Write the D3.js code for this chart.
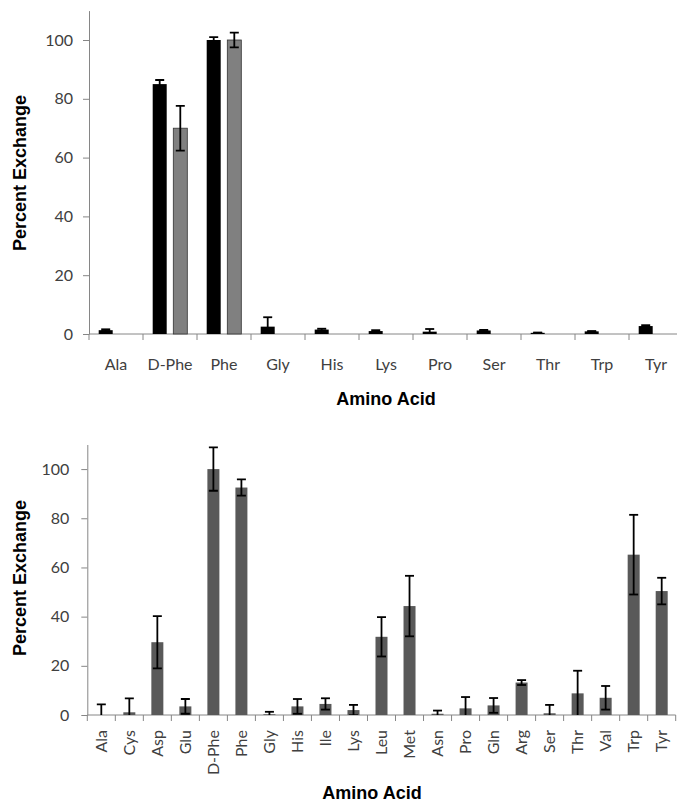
<!DOCTYPE html>
<html>
<head>
<meta charset="utf-8">
<script src="https://cdn.jsdelivr.net/npm/d3@7"></script>
<style>
  body { margin: 0; background: #fff; }
  .tick text { font-family: Lato, "Open Sans", sans-serif; font-size: 16px; fill: #404040; }
  .title { font-family: "Liberation Sans", Arial, sans-serif; font-size: 18px; font-weight: bold; fill: #000; }
</style>
</head>
<body>
<div id="chart"></div>
<script>
// top panel: two series per amino acid
const topAcids = ["Ala", "D-Phe", "Phe", "Gly", "His", "Lys", "Pro", "Ser", "Thr", "Trp", "Tyr"];
const topBlack = [1.3, 85, 100, 2.5, 1.5, 1.0, 0.8, 1.2, 0.4, 0.9, 2.7];
const topBlackErr = [0.3, 1.4, 1.0, 3.2, 0.3, 0.3, 0.9, 0.2, 0.1, 0.1, 0.3];
const topGray = [0, 70, 100, 0, 0, 0, 0, 0, 0, 0, 0];
const topGrayErr = [0, 7.6, 2.5, 0, 0, 0, 0, 0, 0, 0, 0];

// bottom panel: one series
const bottomAcids = ["Ala", "Cys", "Asp", "Glu", "D-Phe", "Phe", "Gly", "His", "Ile", "Lys", "Leu",
    "Met", "Asn", "Pro", "Gln", "Arg", "Ser", "Thr", "Val", "Trp", "Tyr"];
const bottomValues = [0, 1.1, 29.6, 3.5, 100, 92.5, 0.3, 3.5, 4.5, 2.0, 31.8,
    44.3, 0.5, 2.7, 3.9, 13.2, 0.7, 8.8, 7.0, 65.2, 50.4];
const bottomErr = [4.3, 5.7, 10.6, 3.0, 8.8, 3.3, 1.0, 3.0, 2.3, 2.1, 8.0,
    12.3, 1.3, 4.6, 3.0, 1.0, 3.4, 9.2, 4.8, 16.2, 5.4];

const yTicks = [0, 20, 40, 60, 80, 100];

const width = 677, height = 802;
const axisColor = "#868686";

const svg = d3.select("#chart")
    .append("svg")
    .attr("width", width)
    .attr("height", height);

// one panel = axes, category ticks, bars and error bars
function drawPanel(p) {
    const g = svg.append("g");

    const x = d3.scaleBand()
        .domain(p.cats)
        .range([p.left, p.right])
        .padding(0);

    const y = d3.scaleLinear()
        .domain([0, 110])
        .range([p.bottom, p.top]);

    // clip for error bars (Excel clips to plot area)
    g.append("clipPath")
        .attr("id", p.id + "-clip")
        .append("rect")
        .attr("x", p.left)
        .attr("y", y(110))
        .attr("width", width - p.left)
        .attr("height", y(0) - y(110));

    // y axis
    const yAxis = g.append("g")
        .attr("transform", `translate(${p.left},0)`)
        .call(d3.axisLeft(y).tickValues(yTicks).tickSize(6).tickSizeOuter(0).tickPadding(p.yPad));
    yAxis.select(".domain").attr("stroke", axisColor);
    yAxis.selectAll(".tick line").attr("stroke", axisColor);

    // x axis line and boundary ticks
    g.append("line")
        .attr("x1", p.left).attr("x2", p.right)
        .attr("y1", y(0)).attr("y2", y(0))
        .attr("stroke", axisColor);

    const bounds = p.cats.map(c => x(c)).concat([x(p.cats[p.cats.length - 1]) + x.bandwidth()]);
    g.selectAll(".btick")
        .data(bounds)
        .enter()
        .append("line")
        .attr("x1", d => d).attr("x2", d => d)
        .attr("y1", y(0)).attr("y2", y(0) + 6)
        .attr("stroke", axisColor);

    // category labels
    const labels = g.selectAll(".cat")
        .data(p.cats)
        .enter()
        .append("g")
        .attr("class", "tick")
        .attr("transform", d => `translate(${x(d) + x.bandwidth() / 2},${p.labelY})`)
        .append("text");
    if (p.rotate) {
        labels.attr("transform", "rotate(-90)")
            .attr("text-anchor", "end")
            .attr("dy", "0.35em")
            .text(d => d);
    } else {
        labels.attr("text-anchor", "middle").text(d => d);
    }

    // bars
    p.series.forEach(s => {
        const rows = s.values.map((v, i) => ({ cat: p.cats[i], v: v, e: s.err[i] }));
        const cx = d => x(d.cat) + x.bandwidth() / 2 + s.offset;

        g.selectAll(null)
            .data(rows.filter(d => d.v > 0))
            .enter()
            .append("rect")
            .attr("x", d => cx(d) - s.width / 2)
            .attr("y", d => y(d.v))
            .attr("width", s.width)
            .attr("height", d => y(0) - y(d.v))
            .attr("fill", s.color)
            .attr("stroke", s.stroke || "none")
            .attr("stroke-width", 0.8);

        // error bars
        const eg = g.append("g").attr("clip-path", `url(#${p.id}-clip)`);
        rows.filter(d => d.e > 0).forEach(d => {
            const c = cx(d);
            eg.append("line")
                .attr("x1", c).attr("x2", c)
                .attr("y1", y(d.v + d.e)).attr("y2", y(d.v - d.e))
                .attr("stroke", "#000").attr("stroke-width", 1.8);
            [d.v + d.e, d.v - d.e].forEach(t => {
                eg.append("line")
                    .attr("x1", c - 4.5).attr("x2", c + 4.5)
                    .attr("y1", y(t)).attr("y2", y(t))
                    .attr("stroke", "#000").attr("stroke-width", 1.8);
            });
        });
    });

    // axis titles
    g.append("text")
        .attr("class", "title")
        .attr("transform", "rotate(-90)")
        .attr("x", -p.yTitleCenter)
        .attr("y", 26)
        .attr("text-anchor", "middle")
        .text("Percent Exchange");

    g.append("text")
        .attr("class", "title")
        .attr("x", p.xTitleX)
        .attr("y", p.xTitleY)
        .attr("text-anchor", "middle")
        .text("Amino Acid");
}

drawPanel({
    id: "top",
    cats: topAcids,
    left: 89, right: 683, top: 10.6, bottom: 334,
    yPad: 10, labelY: 369.5, rotate: false,
    yTitleCenter: 173, xTitleX: 386, xTitleY: 405,
    series: [
        { values: topBlack, err: topBlackErr, color: "#000", width: 14, offset: -10.3 },
        { values: topGray, err: topGrayErr, color: "#808080", stroke: "#333", width: 14, offset: 10.3 }
    ]
});

drawPanel({
    id: "bottom",
    cats: bottomAcids,
    left: 87.3, right: 675.7, top: 444.5, bottom: 715,
    yPad: 12, labelY: 730, rotate: true,
    yTitleCenter: 578, xTitleX: 372, xTitleY: 799,
    series: [
        { values: bottomValues, err: bottomErr, color: "#595959", width: 12, offset: 0 }
    ]
});
</script>
</body>
</html>
